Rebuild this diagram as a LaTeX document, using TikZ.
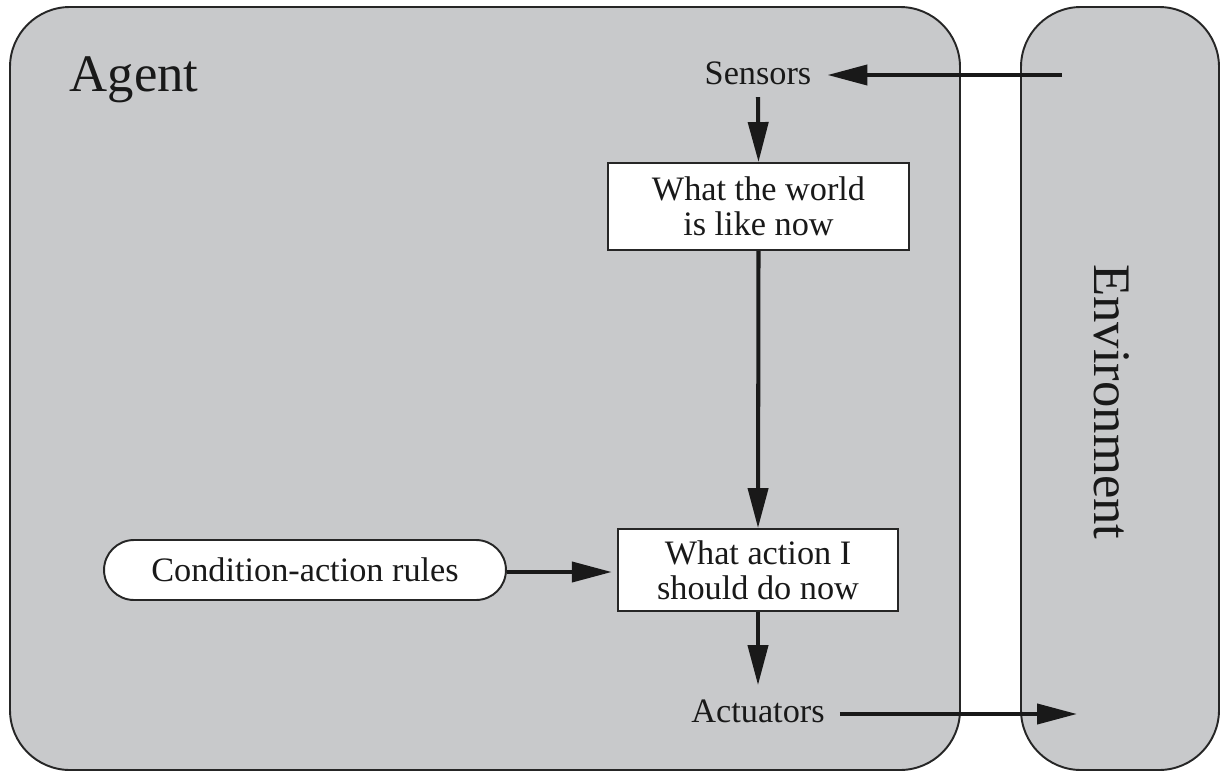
\documentclass[tikz,border=0pt]{standalone}
\usepackage{fontspec}
\setmainfont{Liberation Serif}
\usetikzlibrary{arrows.meta}
\definecolor{agentgray}{RGB}{200,201,203}
\begin{document}
\begin{tikzpicture}[x=0.02cm,y=-0.02cm,
  region/.style={draw=black!85,line width=1.1pt,fill=agentgray,rounded corners=1.2cm},
  txt/.style={font=\fontsize{19.5}{20}\selectfont,align=center,text=black!90},
  bigtxt/.style={font=\fontsize{30}{32}\selectfont,text=black!90},
  infobox/.style={txt,draw=black!85,line width=1.1pt,fill=white,inner sep=0pt},
  rulebox/.style={txt,draw=black!85,line width=1.1pt,fill=white,rounded corners=0.6cm,inner sep=0pt},
  arr/.style={line width=2.3pt,draw=black!90,-{Triangle[length=0.8cm,width=0.4cm]}},
]
\useasboundingbox (0,0) rectangle (1220,774);
% agent and environment regions
\draw[region] (10,7) rectangle (960,770);
\draw[region] (1021,7) rectangle (1219,770);
\node[bigtxt] (agent) at (134,80) {Agent};
\node[bigtxt,rotate=-90] (env) at (1112,402) {Environment};

% internal components
\node[txt,inner sep=0pt] (sensors) at (758,73) {Sensors};
\node[infobox,minimum width=6.02cm,minimum height=1.74cm] (world) at (758.5,206.5) {What the world\\is like now};
\node[infobox,minimum width=5.6cm,minimum height=1.64cm] (action) at (758,570) {What action I\\should do now};
\node[rulebox,minimum width=8.04cm,minimum height=1.2cm] (rules) at (305,570) {Condition-action rules};
\node[txt,inner sep=0pt] (actuators) at (758,711) {Actuators};

% free ends inside the environment
\coordinate (percept) at (1062,75);
\coordinate (effect) at (1077,714);

% connectors
\draw[arr,shorten >=9pt] (percept) -- (sensors.east |- percept);
\draw[arr] ([yshift=-7pt]sensors.south) -- (world.north);
\draw[arr] (world.south) -- (action.north);
\draw[arr,shorten >=3pt] (rules.east |- 0,572) -- (action.west |- 0,572);
\draw[arr] (action.south) -- ([yshift=8pt]actuators.north);
\draw[arr] ([xshift=8.5pt]actuators.east |- effect) -- (effect);
\end{tikzpicture}
\end{document}
